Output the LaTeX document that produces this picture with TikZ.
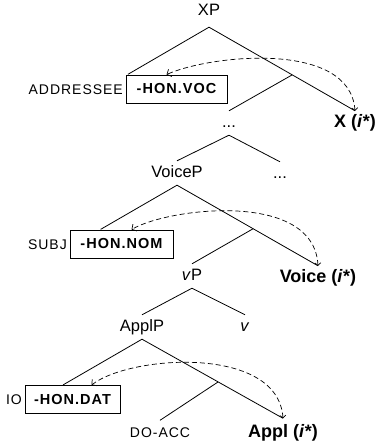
\documentclass[tikz,border=0pt]{standalone}
\usepackage{fontspec}
\setmainfont{Liberation Sans}
\newfontfamily\spfont[LetterSpace=7]{Liberation Sans}
\usetikzlibrary{calc,fit,arrows.meta}
\begin{document}
\begin{tikzpicture}[x=1pt,y=-1pt,
  lbl/.style={font=\fontsize{16.5}{18}\selectfont, anchor=base, inner xsep=1pt, inner ysep=3pt, text height=13pt, text depth=5pt},
  head/.style={lbl, font=\fontsize{18}{20}\selectfont\bfseries},
  sm/.style={font=\fontsize{14}{16}\selectfont\spfont, anchor=base east, inner sep=0pt},
  hbox/.style={draw, line width=0.9pt, minimum height=28pt, inner sep=0pt, font=\fontsize{14.5}{16}\selectfont\spfont\bfseries},
  grp/.style={inner sep=0pt},
  tree/.style={line width=0.8pt},
  mv/.style={dash pattern=on 5pt off 3pt, line width=0.7pt, {Straight Barb[length=2.5pt,width=6pt]}-{Straight Barb[length=3.5pt,width=8pt]}},
]
\useasboundingbox (0,0) rectangle (378,441);

% top level
\node[lbl, text depth=8pt] (XP) at (209,16) {XP};
\node[hbox, minimum width=101pt] (voc) at (176.5,89) {-HON.VOC};
\node[sm] (addr) at (123,94.2) {ADDRESSEE};
\node[grp, fit=(addr)(voc)] (addrP) {};
\node[head] (X) at (355,127) {X (\textit{i*})};
\node[lbl] (dots1) at (229,127) {...};

% VoiceP level
\node[lbl] (VoiceP) at (177,177) {VoiceP};
\node[lbl] (dots2) at (280,178) {...};
\node[hbox, minimum width=103pt] (nom) at (121.5,244) {-HON.NOM};
\node[sm] (subj) at (67,249.2) {SUBJ};
\node[grp, fit=(subj)(nom)] (subjP) {};
\node[head] (Voice) at (318,282) {Voice (\textit{i*})};
\node[lbl] (vP) at (192,280) {\textit{v}P};

% ApplP level
\node[lbl] (ApplP) at (142,331) {ApplP};
\node[lbl] (v) at (245,331) {\textit{v}};
\node[hbox, minimum width=95pt] (dat) at (72.5,399.5) {-HON.DAT};
\node[sm] (io) at (22,404.7) {IO};
\node[grp, fit=(io)(dat)] (ioP) {};
\node[lbl, text height=15pt, text depth=0pt, inner ysep=2pt] (DO) at (160,437.5) {\fontsize{14}{16}\selectfont\spfont DO-ACC};
\node[head, text height=17pt, text depth=0pt, inner ysep=2pt] (Appl) at (283,437.5) {Appl (\textit{i*})};

% branch points
\coordinate (b1) at ($(XP.south)!0.57!(X.north)$);
\coordinate (b2) at ($(VoiceP.south)!0.54!(Voice.north)$);
\coordinate (b3) at ($(ApplP.south)!0.54!(Appl.north)$);

% tree
\draw[tree] (addrP.north) -- (XP.south) -- (X.north);
\draw[tree] (b1) -- (dots1.north);
\draw[tree] (VoiceP.north) -- (dots1.south) -- (dots2.north);
\draw[tree] (subjP.north) -- (VoiceP.south) -- (Voice.north);
\draw[tree] (b2) -- (vP.north);
\draw[tree] (ApplP.north) -- (vP.south) -- (v.north);
\draw[tree] (ioP.north) -- (ApplP.south) -- (Appl.north);
\draw[tree] (b3) -- (DO.north);

% movement arcs
\draw[mv] (X.north) .. controls (350,40) and (210,55) .. ([xshift=41pt]voc.north west);
\draw[mv] (Voice.north) .. controls (314,190) and (168,208) .. ([xshift=62pt]nom.north west);
\draw[mv] (Appl.north) .. controls (278,345) and (130,355) .. ([xshift=67pt]dat.north west);
\end{tikzpicture}
\end{document}
